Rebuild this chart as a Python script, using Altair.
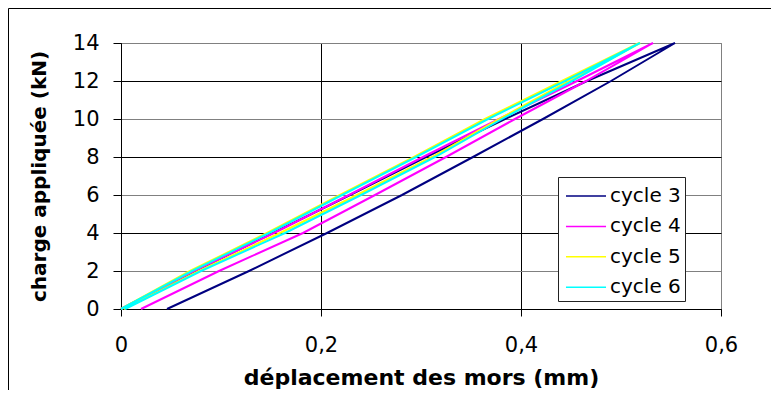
import altair as alt
import pandas as pd

cycles = ["cycle 3", "cycle 4", "cycle 5", "cycle 6"]
colors = ["#000080", "#FF00FF", "#FFFF00", "#00FFFF"]
loads = [0, 2, 4, 6, 8, 10, 12, 14]

# displacement (mm) read at each load level: loading branch (right) and return branch (left)
c3_load = [0.046, 0.128, 0.206, 0.281, 0.352, 0.422, 0.490, 0.554]
c3_back = [0.000, 0.074, 0.152, 0.229, 0.305, 0.384, 0.466, 0.554]
c4_load = [0.020, 0.098, 0.182, 0.254, 0.325, 0.394, 0.465, 0.532]
c4_back = [0.000, 0.073, 0.153, 0.228, 0.302, 0.378, 0.456, 0.532]
c5_load = [0.003, 0.078, 0.159, 0.236, 0.311, 0.378, 0.448, 0.519]
c5_back = [0.000, 0.069, 0.146, 0.219, 0.293, 0.364, 0.441, 0.518]
c6_load = [0.004, 0.080, 0.164, 0.240, 0.314, 0.381, 0.451, 0.519]
c6_back = [0.000, 0.071, 0.148, 0.221, 0.295, 0.367, 0.444, 0.519]

x_ticks = [0, 0.2, 0.4, 0.6]
y_ticks = [0, 2, 4, 6, 8, 10, 12, 14]

series = {
    "cycle 3": (c3_load, c3_back),
    "cycle 4": (c4_load, c4_back),
    "cycle 5": (c5_load, c5_back),
    "cycle 6": (c6_load, c6_back),
}

rows = []
for name, (up, back) in series.items():
    seq = 0
    for x, y in zip(up, loads):
        rows.append({"cycle": name, "seq": seq, "x": x, "y": y})
        seq += 1
    for x, y in zip(back[::-1], loads[::-1]):
        rows.append({"cycle": name, "seq": seq, "x": x, "y": y})
        seq += 1
df = pd.DataFrame(rows)

FONT = "DejaVu Sans"

x_axis = alt.Axis(
    values=x_ticks,
    labelExpr="datum.value == 0 ? '0' : replace(format(datum.value, '.1f'), '.', ',')",
    labelFont=FONT, labelFontSize=21, labelColor="black", labelPadding=18,
    labelFlush=False, labelOverlap=False,
    tickSize=7, tickColor="black", domainColor="black",
    gridColor={"condition": {"test": "datum.value > 0.55", "value": "#808080"}, "value": "#000000"},
    gridOpacity=1,
    title="déplacement des mors (mm)", titleFont=FONT, titleFontSize=22,
    titleFontWeight="bold", titleColor="black",
    titleX=300, titleY=75, titleAlign="center", titleBaseline="alphabetic",
)
y_axis = alt.Axis(
    values=y_ticks, format="d",
    labelFont=FONT, labelFontSize=21, labelColor="black", labelPadding=14,
    labelFlush=False, labelOverlap=False,
    tickSize=8, tickColor="black", domainColor="black",
    gridColor={"condition": {"test": "datum.value % 4 == 2", "value": "#808080"}, "value": "#000000"},
    gridOpacity=1,
    title="charge appliquée (kN)", titleFont=FONT, titleFontSize=20,
    titleFontWeight="bold", titleColor="black", titleAngle=270,
    titleX=-76, titleY=133, titleAlign="center", titleBaseline="alphabetic",
)

color = alt.Color(
    "cycle:N",
    scale=alt.Scale(domain=cycles, range=colors),
    legend=alt.Legend(
        orient="none", legendX=450, legendY=138, title=None,
        symbolType="M-1.43,0H1.43", symbolSize=784, symbolStrokeWidth=1.5,
        labelFont=FONT, labelFontSize=20, labelColor="black", labelOffset=9,
        rowPadding=5.4, padding=0, labelLimit=300,
    ),
)

base = alt.Chart(df)
lines = []
for name in cycles:
    lines.append(
        base.transform_filter(alt.datum.cycle == name)
        .mark_line(strokeWidth=2)
        .encode(
            x=alt.X("x:Q", scale=alt.Scale(domain=[0, 0.6], nice=False), axis=x_axis),
            y=alt.Y("y:Q", scale=alt.Scale(domain=[0, 14], nice=False), axis=y_axis),
            color=color,
            order=alt.Order("seq:Q"),
        )
    )

one = pd.DataFrame({"k": [0]})
frame = alt.Chart(one).mark_rect(fill="white", fillOpacity=0, stroke="black", strokeWidth=1).encode(
    x=alt.value(-112.5), x2=alt.value(700), y=alt.value(-34.5), y2=alt.value(400)
)
legend_box = alt.Chart(one).mark_rect(fill="white", stroke="#222222", strokeWidth=1).encode(
    x=alt.value(437.5), x2=alt.value(564.5), y=alt.value(134.5), y2=alt.value(258.5)
)

chart = (
    alt.layer(frame, *lines, legend_box)
    .properties(
        width=600, height=266,
        autosize=alt.AutoSizeParams(type="none"),
        padding={"left": 113, "top": 35, "right": 50, "bottom": 81},
    )
    .configure_view(stroke="#808080", strokeWidth=1)
)

chart.save("out.html", embed_options={"renderer": "svg", "actions": False})
